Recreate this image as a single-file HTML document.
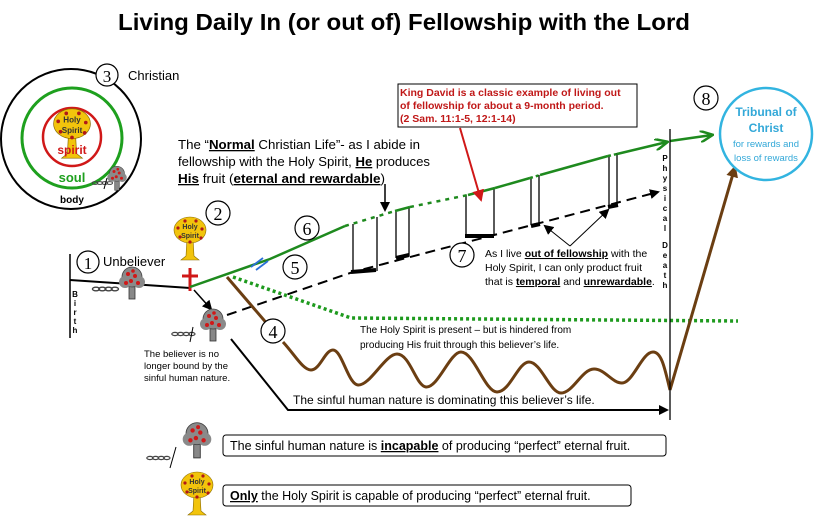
<!DOCTYPE html>
<html><head><meta charset="utf-8"><style>
html,body{margin:0;padding:0;background:#fff;}
svg{display:block;font-family:"Liberation Sans",Arial,sans-serif;}
</style></head><body>
<svg width="818" height="521" viewBox="0 0 818 521" xmlns="http://www.w3.org/2000/svg">
<defs>
<marker id="ab" markerWidth="10" markerHeight="10" refX="8" refY="5" orient="auto" markerUnits="userSpaceOnUse"><path d="M0,0 L10,5 L0,10 Z" fill="#000"/></marker>
<marker id="ag" markerWidth="14" markerHeight="12" refX="12" refY="6" orient="auto" markerUnits="userSpaceOnUse"><path d="M0,0 L13,6 L0,12" fill="none" stroke="#1e8a1e" stroke-width="2.5"/></marker>
<marker id="ar" markerWidth="12" markerHeight="12" refX="10" refY="6" orient="auto" markerUnits="userSpaceOnUse"><path d="M0,0 L12,6 L0,12 Z" fill="#d01818"/></marker>
<marker id="abr" markerWidth="12" markerHeight="12" refX="10" refY="6" orient="auto" markerUnits="userSpaceOnUse"><path d="M0,0 L12,6 L0,12 Z" fill="#6b3e12"/></marker>
<g id="gt">
<rect x="-3" y="4" width="6" height="15" fill="#888" stroke="#333" stroke-width="0.8"/>
<circle cx="0" cy="-3" r="10" fill="#8a8a8a" stroke="#444" stroke-width="0.8"/>
<circle cx="-7" cy="2" r="6" fill="#8a8a8a"/><circle cx="7" cy="2" r="6" fill="#8a8a8a"/>
<circle cx="-4" cy="-6" r="2" fill="#d01818"/><circle cx="3" cy="-4" r="2" fill="#d01818"/><circle cx="-1" cy="1" r="2" fill="#d01818"/><circle cx="6" cy="3" r="2" fill="#d01818"/><circle cx="-6" cy="3" r="2" fill="#d01818"/><circle cx="1" cy="-9" r="1.8" fill="#d01818"/>
</g>
<g id="yt">
<path d="M-3,6 L-4,24 L-9,28 L9,28 L4,24 L3,6 Z" fill="#f2c40c" stroke="#8a6a00" stroke-width="0.6"/>
<ellipse cx="0" cy="-2" rx="16" ry="13" fill="#f2c40c" stroke="#8a6a00" stroke-width="0.6"/>
<text x="0" y="-3" font-size="7" font-weight="bold" text-anchor="middle" fill="#333">Holy</text>
<text x="0" y="6" font-size="7" font-weight="bold" text-anchor="middle" fill="#333">Spirit</text>
<circle cx="-12" cy="-4" r="1.6" fill="#b01818"/><circle cx="12" cy="-3" r="1.6" fill="#b01818"/><circle cx="-10" cy="5" r="1.6" fill="#b01818"/><circle cx="11" cy="6" r="1.6" fill="#b01818"/><circle cx="-5" cy="-11" r="1.6" fill="#b01818"/><circle cx="6" cy="-11" r="1.6" fill="#b01818"/><circle cx="0" cy="10" r="1.6" fill="#b01818"/>
</g>
<g id="ch"><g fill="none" stroke="#444" stroke-width="1.5"><ellipse cx="0" cy="0" rx="4" ry="2"/><ellipse cx="7" cy="0" rx="4" ry="2"/><ellipse cx="14" cy="0" rx="4" ry="2"/><ellipse cx="21" cy="0" rx="4" ry="2"/></g></g>
</defs>

<text x="404" y="30" font-size="23" font-weight="bold" text-anchor="middle" textLength="572" lengthAdjust="spacingAndGlyphs">Living Daily In (or out of) Fellowship with the Lord</text>

<circle cx="71" cy="139" r="70" fill="none" stroke="#000" stroke-width="2"/>
<circle cx="72" cy="138" r="50" fill="none" stroke="#1ea01e" stroke-width="3"/>
<circle cx="72" cy="137" r="29" fill="none" stroke="#d01818" stroke-width="2.5"/>
<use href="#yt" transform="translate(72,126) scale(1.15)"/>
<text x="72" y="154" font-size="12" font-weight="bold" fill="#d01818" text-anchor="middle">spirit</text>
<text x="72" y="182" font-size="13" font-weight="bold" fill="#1ea01e" text-anchor="middle">soul</text>
<text x="72" y="203" font-size="10" font-weight="bold" text-anchor="middle">body</text>
<use href="#ch" transform="translate(95,183) scale(0.7)"/>
<use href="#gt" transform="translate(117,176) scale(0.75)"/>
<line x1="107" y1="178" x2="104" y2="189" stroke="#000"/>
<circle cx="107" cy="75" r="11" fill="#fff" stroke="#000" stroke-width="1.2"/><text x="107" y="82" font-size="17" text-anchor="middle" font-family="Liberation Serif">3</text>
<text x="128" y="80" font-size="13">Christian</text>

<line x1="70" y1="254" x2="70" y2="338" stroke="#000" stroke-width="1.5"/>
<g font-size="8" font-weight="bold" text-anchor="middle"><text x="75" y="297">B</text><text x="75" y="306">i</text><text x="75" y="315">r</text><text x="75" y="324">t</text><text x="75" y="333">h</text></g>
<circle cx="88" cy="262" r="11" fill="#fff" stroke="#000" stroke-width="1.2"/><text x="88" y="269" font-size="17" text-anchor="middle" font-family="Liberation Serif">1</text>
<text x="103" y="266" font-size="13">Unbeliever</text>
<polyline points="70,280 190,288" fill="none" stroke="#000" stroke-width="2"/>
<use href="#ch" transform="translate(96,289) scale(0.9)"/>
<use href="#gt" transform="translate(132,280)"/>
<use href="#yt" transform="translate(190,232)"/>
<circle cx="218" cy="213" r="12" fill="#fff" stroke="#000" stroke-width="1.2"/><text x="218" y="220" font-size="18" text-anchor="middle" font-family="Liberation Serif">2</text>
<line x1="190" y1="268" x2="190" y2="291" stroke="#d01818" stroke-width="3"/>
<line x1="182" y1="276" x2="198" y2="276" stroke="#d01818" stroke-width="3"/>
<line x1="194" y1="290" x2="211" y2="309" stroke="#000" stroke-width="1.5" marker-end="url(#ab)"/>
<use href="#gt" transform="translate(213,322)"/>
<use href="#ch" transform="translate(175,334) scale(0.8)"/>
<line x1="193" y1="327" x2="190" y2="342" stroke="#000"/>
<g font-size="9.5"><text x="144" y="357">The believer is no</text><text x="144" y="369">longer bound by the</text><text x="144" y="381">sinful human nature.</text></g>

<polyline points="227,315 353,272 658,192" fill="none" stroke="#000" stroke-width="2" stroke-dasharray="10,6" marker-end="url(#ab)"/>
<g stroke="#000" stroke-width="1.3">
<line x1="353" y1="224" x2="353" y2="272"/><line x1="377" y1="217" x2="377" y2="271"/>
<line x1="396" y1="211" x2="396" y2="258"/><line x1="409" y1="208" x2="409" y2="256"/>
<line x1="466" y1="195" x2="466" y2="236"/><line x1="494" y1="188" x2="494" y2="234"/>
<line x1="531" y1="177" x2="531" y2="225"/><line x1="539" y1="175" x2="539" y2="224"/>
<line x1="609" y1="155" x2="609" y2="206"/><line x1="617" y1="153" x2="617" y2="205"/>
</g>
<g stroke="#000" stroke-width="4">
<line x1="351" y1="272" x2="376" y2="270"/><line x1="396" y1="258" x2="409" y2="255"/>
<line x1="465" y1="236" x2="494" y2="236"/><line x1="531" y1="226" x2="540" y2="224"/>
<line x1="608" y1="207" x2="618" y2="205"/>
</g>

<g fill="none" stroke="#1e8a1e" stroke-width="2.5">
<polyline points="190,287 270,259 345,226"/>
<polyline points="345,226 395,211" stroke-dasharray="4,5"/>
<line x1="395" y1="211" x2="410" y2="207"/>
<line x1="410" y1="207" x2="468" y2="195" stroke-dasharray="4,5"/>
<line x1="468" y1="195" x2="495" y2="188"/>
<line x1="495" y1="188" x2="530" y2="178"/>
<line x1="530" y1="178" x2="540" y2="175" stroke-dasharray="3,3"/>
<line x1="540" y1="175" x2="608" y2="156"/>
<line x1="608" y1="156" x2="617" y2="154" stroke-dasharray="3,3"/>
<line x1="617" y1="154" x2="667" y2="142" marker-end="url(#ag)"/>
<line x1="670" y1="141" x2="712" y2="135" marker-end="url(#ag)"/>
</g>
<g stroke="#2a6fd8" stroke-width="1.8"><line x1="251" y1="267" x2="263" y2="258"/><line x1="256" y1="270" x2="268" y2="261"/></g>

<polyline points="233,277 351,318 738,321" fill="none" stroke="#1e9a1e" stroke-width="3.5" stroke-dasharray="3,3"/>

<polyline points="227,277 275,333" fill="none" stroke="#6b3e12" stroke-width="3"/>
<path d="M283,342 C295,355 303,370 311,370 C320,370 325,350 333,350 C342,350 348,384 358,385 C370,386 385,354 397,354 C410,354 416,386 426,387 C438,388 450,352 461,352 C474,352 485,392 497,392 C510,392 518,362 529,362 C541,362 550,393 561,393 C573,393 582,369 594,369 C605,369 612,383 622,383 C633,383 642,352 653,352 C662,352 665,370 670,390" fill="none" stroke="#6b3e12" stroke-width="3"/>
<line x1="670" y1="390" x2="735" y2="167" stroke="#6b3e12" stroke-width="3" marker-end="url(#abr)"/>

<polyline points="231,339 288,410 667,410" fill="none" stroke="#000" stroke-width="2" marker-end="url(#ab)"/>
<text x="293" y="404" font-size="12">The sinful human nature is dominating this believer’s life.</text>

<g fill="#fff" stroke="#000" stroke-width="1.2">
<circle cx="273" cy="331" r="12"/><circle cx="295" cy="267" r="12"/><circle cx="307" cy="228" r="12"/><circle cx="462" cy="255" r="12"/><circle cx="706" cy="98" r="12"/>
</g>
<g font-size="18" text-anchor="middle" font-family="Liberation Serif">
<text x="273" y="338">4</text><text x="295" y="274">5</text><text x="307" y="235">6</text><text x="462" y="262">7</text><text x="706" y="105">8</text>
</g>

<g font-size="10">
<text x="360" y="333">The Holy Spirit is present – but is hindered from</text>
<text x="360" y="348">producing His fruit through this believer’s life.</text>
</g>
<g font-size="13">
<text x="178" y="149" textLength="242" lengthAdjust="spacingAndGlyphs">The “<tspan font-weight="bold" text-decoration="underline">Normal</tspan> Christian Life”- as I abide in</text>
<text x="178" y="166" textLength="252" lengthAdjust="spacingAndGlyphs">fellowship with the Holy Spirit, <tspan font-weight="bold" text-decoration="underline">He</tspan> produces</text>
<text x="178" y="183" textLength="207" lengthAdjust="spacingAndGlyphs"><tspan font-weight="bold" text-decoration="underline">His</tspan> fruit (<tspan font-weight="bold" text-decoration="underline">eternal and rewardable</tspan>)</text>
</g>
<line x1="385" y1="184" x2="385" y2="210" stroke="#000" stroke-width="1.5" marker-end="url(#ab)"/>
<g font-size="10.5">
<text x="485" y="257">As I live <tspan font-weight="bold" text-decoration="underline">out of fellowship</tspan> with the</text>
<text x="485" y="271">Holy Spirit, I can only product fruit</text>
<text x="485" y="285">that is <tspan font-weight="bold" text-decoration="underline">temporal</tspan> and <tspan font-weight="bold" text-decoration="underline">unrewardable</tspan>.</text>
</g>
<line x1="570" y1="246" x2="545" y2="226" stroke="#000" marker-end="url(#ab)"/>
<line x1="570" y1="246" x2="608" y2="210" stroke="#000" marker-end="url(#ab)"/>

<rect x="398" y="84" width="239" height="43" fill="#fff" stroke="#000" stroke-width="1"/>
<g font-size="10.5" font-weight="bold" fill="#c01818">
<text x="400" y="96">King David is a classic example of living out</text>
<text x="400" y="109">of fellowship for about a 9-month period.</text>
<text x="400" y="122">(2 Sam. 11:1-5, 12:1-14)</text>
</g>
<line x1="460" y1="128" x2="481" y2="200" stroke="#d01818" stroke-width="2" marker-end="url(#ar)"/>

<line x1="670" y1="129" x2="670" y2="420" stroke="#000" stroke-width="1.3"/>
<g font-size="8" font-weight="bold" text-anchor="middle">
<text x="665" y="161">P</text><text x="665" y="171">h</text><text x="665" y="181">y</text><text x="665" y="191">s</text><text x="665" y="201">i</text><text x="665" y="211">c</text><text x="665" y="221">a</text><text x="665" y="231">l</text>
<text x="665" y="248">D</text><text x="665" y="258">e</text><text x="665" y="268">a</text><text x="665" y="278">t</text><text x="665" y="288">h</text>
</g>

<circle cx="766" cy="134" r="46" fill="#fff" stroke="#32b4e0" stroke-width="2.5"/>
<g fill="#32a8d8" text-anchor="middle">
<text x="766" y="116" font-size="12" font-weight="bold">Tribunal of</text>
<text x="766" y="132" font-size="12" font-weight="bold">Christ</text>
<text x="766" y="147" font-size="9.5">for rewards and</text>
<text x="766" y="161" font-size="9.5">loss of rewards</text>
</g>

<use href="#gt" transform="translate(197,437) scale(1.1)"/>
<use href="#ch" transform="translate(150,458) scale(0.8)"/>
<line x1="176" y1="447" x2="170" y2="468" stroke="#000"/>
<rect x="223" y="435" width="443" height="21" rx="3" fill="#fff" stroke="#000" stroke-width="1"/>
<text x="230" y="450" font-size="12.5">The sinful human nature is <tspan font-weight="bold" text-decoration="underline">incapable</tspan> of producing “perfect” eternal fruit.</text>
<use href="#yt" transform="translate(197,487)"/>
<rect x="223" y="485" width="408" height="21" rx="3" fill="#fff" stroke="#000" stroke-width="1"/>
<text x="230" y="500" font-size="12.5"><tspan font-weight="bold" text-decoration="underline">Only</tspan> the Holy Spirit is capable of producing “perfect” eternal fruit.</text>
</svg>
</body></html>
